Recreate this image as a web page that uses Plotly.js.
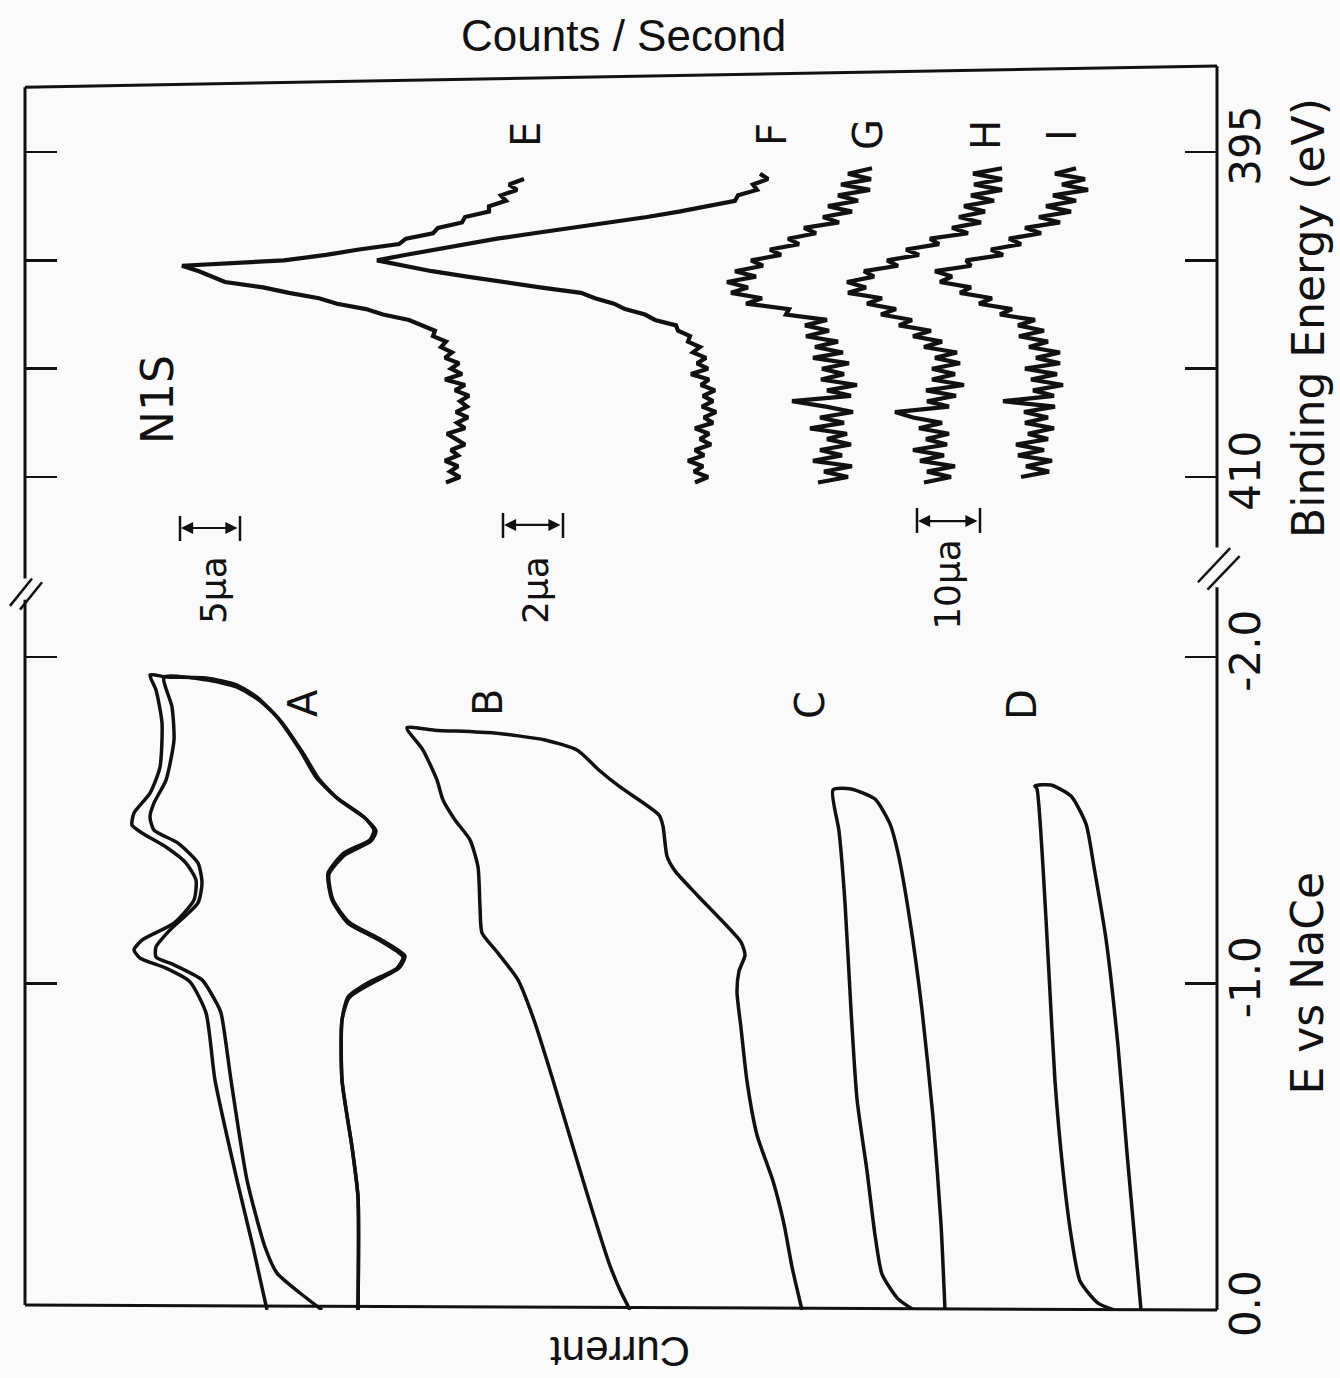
<!DOCTYPE html>
<html><head><meta charset="utf-8">
<script src="https://cdn.plot.ly/plotly-3.0.1.min.js"></script>
<style>html,body{margin:0;padding:0;background:#fafafa;} #chart{width:1340px;height:1378px;}</style>
</head><body><div id="chart"></div>
<script>
// Horizontal axis: signal in arbitrary chart units (current for CV curves A-D,
// counts/second for the N1S spectra E-I), increasing to the left.
// ---- Cyclic voltammograms: potential E (V vs NaCe) ----
const A1_current = [95.0,96.4,98.0,100.2,101.1,102.7,105.1,107.7,108.3,107.5,104.3,102.3,102.1,103.1,105.1,107.5,108.5,108.3,106.7,105.7,105.5,106.1,106.7,105.1,101.1,98.0,96.0,94.0,91.7,90.1,88.1,85.3,84.3,84.7,87.3,88.9,88.5,86.9,83.8,81.4,82.0,84.9,86.9,87.5,87.5,86.5,85.9,85.9];
const A1_potential = [0,-0.193,-0.398,-0.704,-0.910,-1.005,-1.047,-1.078,-1.103,-1.133,-1.185,-1.256,-1.317,-1.369,-1.418,-1.461,-1.485,-1.522,-1.583,-1.663,-1.798,-1.899,-1.945,-1.939,-1.936,-1.914,-1.877,-1.816,-1.715,-1.632,-1.571,-1.510,-1.470,-1.440,-1.400,-1.338,-1.256,-1.185,-1.133,-1.081,-1.047,-1.002,-0.959,-0.888,-0.704,-0.499,-0.346,0];
const A2_current = [89.5,91.7,94.0,95.2,97.0,98.6,99.6,100.2,101.5,104.3,106.1,106.1,104.7,101.9,101.5,101.9,103.9,106.3,106.7,106.3,105.1,104.3,104.5,105.3,101.1,98.0,95.8,93.7,91.4,89.8,87.9,85.1,84.1,84.6,87.2,88.8,88.4,86.8,83.7,81.2,81.8,84.7,86.8,87.5,87.5,86.5,85.9,85.9];
const A2_potential = [0,-0.052,-0.113,-0.193,-0.398,-0.704,-0.910,-0.949,-1.011,-1.057,-1.081,-1.112,-1.164,-1.247,-1.308,-1.369,-1.430,-1.470,-1.510,-1.553,-1.623,-1.746,-1.847,-1.939,-1.930,-1.908,-1.868,-1.807,-1.706,-1.626,-1.565,-1.504,-1.467,-1.436,-1.394,-1.335,-1.256,-1.188,-1.136,-1.084,-1.047,-0.998,-0.956,-0.888,-0.704,-0.499,-0.346,0];
const B_current = [58.7,59.7,60.8,62.4,64.4,66.4,68.3,69.9,71.9,73.5,73.7,73.9,74.7,76.2,77.4,78.0,79.4,81.0,78.2,72.3,67.2,64.0,61.7,59.7,55.8,55.4,55.0,54.2,51.9,47.6,47.2,47.8,48.0,47.6,47.0,46.0,44.4,43.3,42.5,41.5];
const B_potential = [0,-0.061,-0.144,-0.297,-0.499,-0.704,-0.888,-1.011,-1.093,-1.155,-1.234,-1.357,-1.440,-1.501,-1.562,-1.623,-1.715,-1.783,-1.776,-1.767,-1.746,-1.715,-1.651,-1.602,-1.516,-1.482,-1.390,-1.345,-1.268,-1.127,-1.087,-1.038,-0.974,-0.864,-0.701,-0.536,-0.395,-0.263,-0.132,0];
const C_current = [30.3,31.9,33.5,34.2,35.0,36.0,36.6,37.2,37.8,38.4,36.6,34.2,32.7,31.9,30.7,29.5,28.4,27.6,27.2];
const C_potential = [0,-0.034,-0.110,-0.230,-0.426,-0.646,-0.919,-1.247,-1.467,-1.593,-1.596,-1.565,-1.489,-1.400,-1.191,-0.919,-0.591,-0.263,0];
const D_current = [10.3,11.9,13.7,14.6,15.4,16.2,16.8,17.4,18.0,18.2,16.6,14.6,13.1,12.3,11.1,9.9,9.0,8.2,7.6];
const D_potential = [0,-0.021,-0.089,-0.230,-0.426,-0.701,-1.029,-1.357,-1.596,-1.605,-1.608,-1.574,-1.489,-1.357,-1.136,-0.809,-0.481,-0.208,0];

// ---- N1S XPS spectra: binding energy (eV) ----
const bindingEnergy = [410.25,410.0,409.75,409.5,409.25,409.0,408.75,408.5,408.25,408.0,407.75,407.5,407.25,407.0,406.75,406.5,406.25,406.0,405.75,405.5,405.25,405.0,404.75,404.5,404.25,404.0,403.75,403.5,403.25,403.0,402.75,402.5,402.25,402.0,401.75,401.5,401.25,401.0,400.75,400.5,400.25,400.0,399.75,399.5,399.25,399.0,398.75,398.5,398.25,398.0,397.75,397.5,397.25,397.0,396.75,396.5,396.25,396.0,395.75];
const E_counts = [77.1,75.7,76.7,75.9,77.2,75.9,76.6,75.2,76.1,77.0,75.2,76.0,74.9,76.1,75.0,75.7,74.8,76.2,75.2,77.2,75.5,76.6,75.8,77.2,76.5,77.6,77.1,78.4,78.2,79.4,80.8,83.4,85.1,88.0,89.8,92.8,95.4,99.2,100.4,101.8,103.5,93.3,89.1,85.8,81.8,81.1,78.4,77.9,75.5,75.2,72.8,72.8,71.1,71.6,70.0,70.8,69.3,null,null];
const F_counts = [52.2,50.9,52.3,51.4,52.9,51.3,52.2,50.6,51.7,50.8,52.2,50.4,51.3,50.1,51.5,50.4,51.4,50.2,51.6,50.8,52.6,50.9,52.0,51.1,52.4,51.7,52.9,52.7,53.9,54.1,56.2,57.2,59.2,60.3,62.2,63.6,67.7,71.7,75.0,78.5,81.5,84.0,81.2,78.2,75.1,72.0,68.3,64.4,60.4,57.0,53.8,51.1,48.2,47.9,46.0,46.4,44.9,45.7,null];
const G_counts = [39.9,36.9,39.3,36.5,40.4,37.5,39.7,36.6,39.0,37.0,40.7,37.3,39.7,36.4,39.1,42.5,36.6,39.0,36.0,39.6,37.3,39.5,36.8,40.4,37.4,40.2,37.9,41.1,38.8,41.2,39.0,43.1,42.8,47.1,45.5,48.6,46.9,49.0,46.1,48.2,45.4,46.6,43.6,44.7,41.8,42.9,40.1,41.3,37.8,39.4,36.5,38.9,35.9,37.9,34.7,37.6,34.6,36.9,34.5];
const H_counts = [29.3,26.6,29.0,26.2,29.7,27.3,30.4,27.0,29.1,26.8,29.8,27.5,30.4,32.2,26.8,29.0,26.1,29.1,25.3,28.5,26.2,28.5,25.7,28.2,26.0,29.3,27.5,30.4,28.6,31.8,30.5,33.6,32.1,35.0,33.5,36.9,35.1,37.0,34.3,35.3,31.9,33.0,29.8,31.1,27.8,28.7,24.9,26.5,23.6,25.8,23.2,25.3,22.3,24.6,21.5,24.3,21.5,24.4,21.5];
const I_counts = [null,19.6,16.8,19.1,16.5,19.9,17.3,20.1,16.9,18.9,16.3,19.2,16.9,19.3,16.2,21.4,16.3,18.4,15.4,18.6,16.0,19.2,15.7,18.1,15.7,18.8,16.9,19.8,17.3,19.9,18.2,21.7,20.5,23.8,22.5,25.7,24.6,27.7,26.5,28.2,24.6,25.1,21.4,22.6,19.6,20.8,17.6,19.2,15.7,17.8,14.6,17.1,14.1,16.4,12.9,15.5,13.2,16.2,14.1];

// ---- Tick labels ----
const potentialTickVals = [0, -1, -2];
const potentialTickText = ['0.0', '-1.0', '-2.0'];
const energyTickVals = [410, 405, 400, 395];
const energyTickText = ['410', '', '', '395'];

const ink = '#111';
const cvLine = {color: ink, width: 3.5, shape: 'spline', smoothing: 0.6};
const xpsLine = {color: ink, width: 4.2};

function cv(name, x, y) {
  return {type: 'scatter', mode: 'lines', name: name, x: x, y: y, xaxis: 'x', yaxis: 'y', line: cvLine, hoverinfo: 'skip'};
}
function xps(name, x) {
  return {type: 'scatter', mode: 'lines', name: name, x: x, y: bindingEnergy, xaxis: 'x2', yaxis: 'y2', line: xpsLine, connectgaps: false, hoverinfo: 'skip'};
}

const traces = [
  cv('A (scan 1)', A1_current, A1_potential),
  cv('A (scan 2)', A2_current, A2_potential),
  cv('B', B_current, B_potential),
  cv('C', C_current, C_potential),
  cv('D', D_current, D_potential),
  xps('E', E_counts), xps('F', F_counts), xps('G', G_counts), xps('H', H_counts), xps('I', I_counts)
];

const tickFont = {family: 'DejaVu Sans, sans-serif', size: 42, color: ink};
const yCommon = {side: 'right', ticks: 'inside', ticklen: 32, tickwidth: 2.5, tickcolor: ink,
  mirror: 'ticks', showline: false, showgrid: false, zeroline: false, tickangle: -90,
  tickfont: tickFont, fixedrange: true};

function seg(x0, y0, x1, y1, w) {
  return {type: 'line', xref: 'paper', yref: 'paper', x0: x0, y0: y0, x1: x1, y1: y1, line: {color: ink, width: w || 3}};
}
function dseg(x0, y0, x1, y1) {
  return {type: 'line', xref: 'x', yref: 'y2', x0: x0, y0: y0, x1: x1, y1: y1, line: {color: ink, width: 2.5}};
}
const shapes = [
  seg(0, 0.004, 1, 0), seg(0, 0.983, 1, 1),
  seg(1, 1, 1, 0.613), seg(1, 0.581, 1, 0),
  seg(0, 0.983, 0, 0.588), seg(0, 0.571, 0, 0.004),
  seg(0.984, 0.585, 1.011, 0.6125, 2.5), seg(0.992, 0.579, 1.019, 0.606, 2.5),
  seg(-0.0126, 0.566, 0.0059, 0.588, 2.5), seg(-0.0042, 0.563, 0.0143, 0.585, 2.5),
  // scale bars
  dseg(103.7, 411.80, 103.7, 412.95), dseg(97.7, 411.80, 97.7, 412.95),
  dseg(71.4, 411.66, 71.4, 412.81), dseg(65.4, 411.66, 65.4, 412.81),
  dseg(30.0, 411.43, 30.0, 412.58), dseg(23.7, 411.43, 23.7, 412.58)
];

function bar(xa, xb, y) {
  return {xref: 'x', yref: 'y2', axref: 'x', ayref: 'y2', x: xb, y: y, ax: xa, ay: y, text: '',
    showarrow: true, arrowside: 'end+start', arrowhead: 2, arrowsize: 1.1, arrowwidth: 2.2, arrowcolor: ink};
}
function lab(text, x, y, xref, yref, size, angle, fam) {
  return {text: text, x: x, y: y, xref: xref, yref: yref, showarrow: false, textangle: angle,
    xanchor: 'center', yanchor: 'middle', font: {family: fam || 'DejaVu Sans, sans-serif', size: size, color: ink}};
}
const annotations = [
  bar(97.8, 103.6, 412.35), bar(65.5, 71.3, 412.21), bar(23.8, 29.9, 412.03),
  lab('A', 91.4, -1.859, 'x', 'y', 40, -90), lab('B', 72.9, -1.859, 'x', 'y', 40, -90),
  lab('C', 40.7, -1.853, 'x', 'y', 40, -90), lab('D', 19.5, -1.853, 'x', 'y', 40, -90),
  lab('E', 69.1, 394.22, 'x2', 'y2', 40, -90), lab('F', 44.5, 394.22, 'x2', 'y2', 40, -90),
  lab('G', 34.9, 394.22, 'x2', 'y2', 40, -90), lab('H', 23.1, 394.22, 'x2', 'y2', 40, -90),
  lab('I', 15.5, 394.22, 'x2', 'y2', 40, -90),
  lab('N1S', 105.9, 406.44, 'x2', 'y2', 44, -90),
  lab('5μa', 100.4, -2.205, 'x', 'y', 36, -90), lab('2μa', 68.2, -2.205, 'x', 'y', 36, -90),
  lab('10μa', 26.9, -2.221, 'x', 'y', 36, -90),
  lab('E vs NaCe', 1.0763, -1.0, 'paper', 'y', 44, -90),
  lab('Binding Energy (eV)', 1.0763, 402.66, 'paper', 'y2', 44, -90),
  lab('Counts / Second', 0.5017, 1.0249, 'paper', 'paper', 44, 0, 'Liberation Sans, Arial, sans-serif'),
  lab('Current', 0.4992, -0.0338, 'paper', 'paper', 42, 180, 'Liberation Sans, Arial, sans-serif')
];

const layout = {
  width: 1340, height: 1378,
  margin: {l: 25, r: 123, t: 66, b: 68},
  paper_bgcolor: '#fafafa', plot_bgcolor: '#fafafa',
  showlegend: false,
  font: {family: 'DejaVu Sans, sans-serif', color: ink},
  xaxis: {domain: [0, 1], range: [119.2, 0], visible: false, anchor: 'y', fixedrange: true},
  xaxis2: {domain: [0, 1], range: [119.2, 0], visible: false, anchor: 'y2', fixedrange: true},
  yaxis: Object.assign({}, yCommon, {domain: [0, 0.59], range: [0, -2.248], anchor: 'x',
    tickvals: potentialTickVals, ticktext: potentialTickText}),
  yaxis2: Object.assign({}, yCommon, {domain: [0.59, 1], range: [414.568, 391.031], anchor: 'x2',
    tickvals: energyTickVals, ticktext: energyTickText}),
  shapes: shapes,
  annotations: annotations
};

Plotly.newPlot('chart', traces, layout, {staticPlot: true, displayModeBar: false});
</script>
</body></html>
